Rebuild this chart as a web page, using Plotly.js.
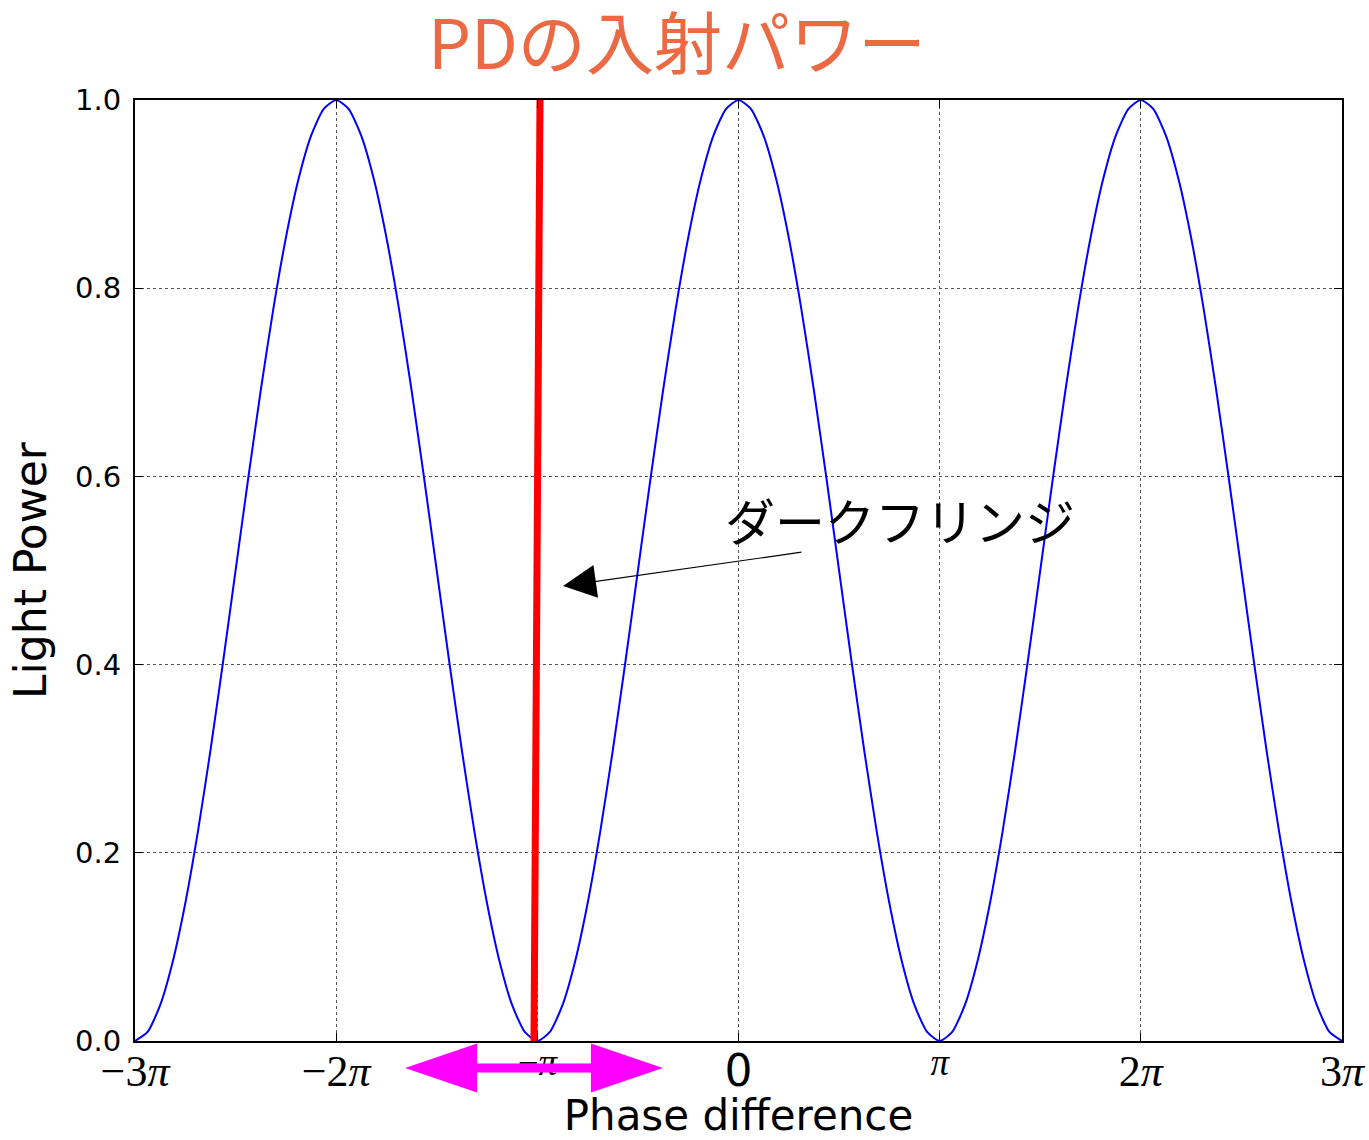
<!DOCTYPE html>
<html>
<head>
<meta charset="utf-8">
<script src="https://cdn.plot.ly/plotly-3.0.1.min.js"></script>
<style>
  html, body { margin: 0; padding: 0; background: #fff; }
  #chart { width: 1369px; height: 1140px; }
</style>
</head>
<body>
<div id="chart"></div>
<script>
// Phase difference in units of pi, sampled every pi/16
const phase = [
  -3, -2.9375, -2.875, -2.8125, -2.75, -2.6875, -2.625, -2.5625,
  -2.5, -2.4375, -2.375, -2.3125, -2.25, -2.1875, -2.125, -2.0625,
  -2, -1.9375, -1.875, -1.8125, -1.75, -1.6875, -1.625, -1.5625,
  -1.5, -1.4375, -1.375, -1.3125, -1.25, -1.1875, -1.125, -1.0625,
  -1, -0.9375, -0.875, -0.8125, -0.75, -0.6875, -0.625, -0.5625,
  -0.5, -0.4375, -0.375, -0.3125, -0.25, -0.1875, -0.125, -0.0625,
  0, 0.0625, 0.125, 0.1875, 0.25, 0.3125, 0.375, 0.4375,
  0.5, 0.5625, 0.625, 0.6875, 0.75, 0.8125, 0.875, 0.9375,
  1, 1.0625, 1.125, 1.1875, 1.25, 1.3125, 1.375, 1.4375,
  1.5, 1.5625, 1.625, 1.6875, 1.75, 1.8125, 1.875, 1.9375,
  2, 2.0625, 2.125, 2.1875, 2.25, 2.3125, 2.375, 2.4375,
  2.5, 2.5625, 2.625, 2.6875, 2.75, 2.8125, 2.875, 2.9375, 3
];
// Normalised light power at each phase
const power = [
  0, 0.0096, 0.0381, 0.0843, 0.1464, 0.2222, 0.3087, 0.4025,
  0.5, 0.5975, 0.6913, 0.7778, 0.8536, 0.9157, 0.9619, 0.9904,
  1, 0.9904, 0.9619, 0.9157, 0.8536, 0.7778, 0.6913, 0.5975,
  0.5, 0.4025, 0.3087, 0.2222, 0.1464, 0.0843, 0.0381, 0.0096,
  0, 0.0096, 0.0381, 0.0843, 0.1464, 0.2222, 0.3087, 0.4025,
  0.5, 0.5975, 0.6913, 0.7778, 0.8536, 0.9157, 0.9619, 0.9904,
  1, 0.9904, 0.9619, 0.9157, 0.8536, 0.7778, 0.6913, 0.5975,
  0.5, 0.4025, 0.3087, 0.2222, 0.1464, 0.0843, 0.0381, 0.0096,
  0, 0.0096, 0.0381, 0.0843, 0.1464, 0.2222, 0.3087, 0.4025,
  0.5, 0.5975, 0.6913, 0.7778, 0.8536, 0.9157, 0.9619, 0.9904,
  1, 0.9904, 0.9619, 0.9157, 0.8536, 0.7778, 0.6913, 0.5975,
  0.5, 0.4025, 0.3087, 0.2222, 0.1464, 0.0843, 0.0381, 0.0096, 0
];

// Operating point line (dark fringe)
const fringeX = [-1.0166, -0.9868];
const fringeY = [0, 1];

// Phase ticks and their labels
const phaseTicks = [-3, -2, -1, 0, 1, 2, 3];
const phaseTickText = [
  '<span style="font-size:44px">−3<i>π</i></span>',
  '<span style="font-size:44px">−2<i>π</i></span>',
  '<sup><span style="font-size:37px">−<i>π</i></span></sup>',
  '<span style="font-family:\'DejaVu Sans\';font-size:44px">0</span>',
  '<sup><span style="font-size:37px"><i>π</i></span></sup>',
  '<span style="font-size:44px">2<i>π</i></span>',
  '<span style="font-size:44px">3<i>π</i></span>'
];

// Annotation: label position, arrow tail and arrow tip (data units)
const fringeLabel = 'ダークフリンジ';
const labelPos = [0.803, 0.555];
const arrowTail = [0.3206, 0.5197];
const arrowTip = [-0.872, 0.4835];

// Double-headed swing arrow under the axis: centre, half span and head length (phase units)
const swingCentre = -1.0166;
const swingHalfSpan = 0.641;
const swingHeadLen = 0.358;

const mainTitle = 'PDの入射パワー';
const xTitle = 'Phase difference';
const yTitle = 'Light Power';

function swingPath() {
  const yc = -0.0287, hh = 0.026, sh = 0.0048;
  const l = swingCentre - swingHalfSpan, r = swingCentre + swingHalfSpan;
  const lb = l + swingHeadLen, rb = r - swingHeadLen;
  const pts = [
    [l, yc], [lb, yc + hh], [lb, yc + sh], [rb, yc + sh], [rb, yc + hh],
    [r, yc], [rb, yc - hh], [rb, yc - sh], [lb, yc - sh], [lb, yc - hh]
  ];
  return 'M' + pts.map(p => p[0] + ',' + p[1]).join(' L') + ' Z';
}

const traces = [
  {
    x: phase, y: power, type: 'scatter', mode: 'lines',
    line: { color: '#0000ff', width: 2, shape: 'spline', smoothing: 0.6 },
    hoverinfo: 'skip'
  },
  {
    x: fringeX, y: fringeY, type: 'scatter', mode: 'lines',
    line: { color: '#ff0000', width: 7 },
    hoverinfo: 'skip'
  }
];

const axisCommon = {
  showline: true, linecolor: '#000', linewidth: 2, mirror: 'ticks',
  ticks: 'inside', ticklen: 8, tickwidth: 1.2, tickcolor: '#000',
  showgrid: true, gridcolor: '#555', griddash: 'dot', gridwidth: 1.3,
  zeroline: false
};

const layout = {
  width: 1369, height: 1140,
  paper_bgcolor: '#fff', plot_bgcolor: '#fff',
  margin: { l: 135, r: 27, t: 100, b: 99 },
  showlegend: false,
  font: { family: 'DejaVu Sans', color: '#000' },
  title: {
    text: mainTitle,
    font: { family: 'Noto Sans CJK JP', size: 68, color: '#ec6a43' },
    x: 0.4945, xref: 'container', xanchor: 'center',
    y: 0.96, yref: 'container', yanchor: 'middle'
  },
  xaxis: Object.assign({}, axisCommon, {
    range: [-3, 3],
    tickmode: 'array', tickvals: phaseTicks, ticktext: phaseTickText,
    tickfont: { family: 'Liberation Serif', size: 26, color: '#000' },
    ticklabelstandoff: 12,
    title: { text: xTitle, font: { family: 'DejaVu Sans', size: 42, color: '#000' }, standoff: 7 }
  }),
  yaxis: Object.assign({}, axisCommon, {
    range: [0, 1], dtick: 0.2, tickformat: '.1f',
    tickfont: { family: 'DejaVu Sans', size: 29, color: '#000' },
    ticklabelstandoff: 6,
    title: { text: yTitle, font: { family: 'DejaVu Sans', size: 44, color: '#000' }, standoff: 15 }
  }),
  shapes: [
    {
      type: 'path', xref: 'x', yref: 'paper', layer: 'above',
      path: swingPath(), fillcolor: '#ff00ff', line: { width: 0 }
    }
  ],
  annotations: [
    {
      x: labelPos[0], y: labelPos[1], xref: 'x', yref: 'y',
      text: fringeLabel, showarrow: false,
      font: { family: 'Noto Sans CJK JP', size: 50, color: '#000' },
      xanchor: 'center', yanchor: 'middle'
    },
    {
      x: arrowTip[0], y: arrowTip[1], xref: 'x', yref: 'y',
      ax: arrowTail[0], ay: arrowTail[1], axref: 'x', ayref: 'y',
      text: '', showarrow: true,
      arrowhead: 2, arrowsize: 5.5, arrowwidth: 1.2, arrowcolor: '#000', standoff: 0
    }
  ]
};

Plotly.newPlot('chart', traces, layout, { displayModeBar: false, staticPlot: true });
</script>
</body>
</html>
